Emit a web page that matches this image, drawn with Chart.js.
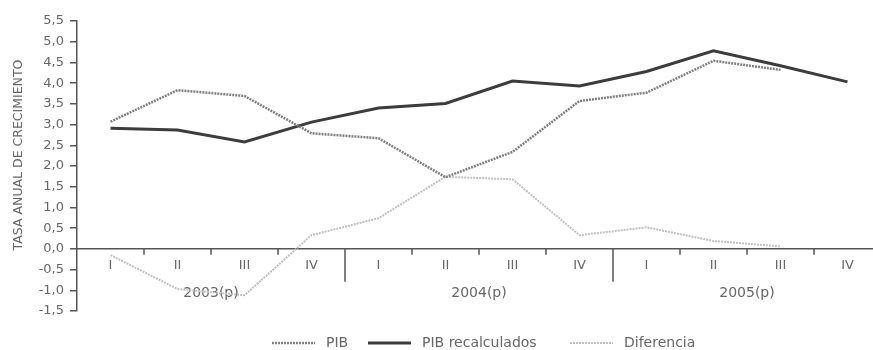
<!DOCTYPE html>
<html>
<head>
<meta charset="utf-8">
<script src="https://cdn.jsdelivr.net/npm/chart.js@4/dist/chart.umd.min.js"></script>
<style>
  html, body { margin: 0; padding: 0; background: #fff; overflow: hidden; }
  #wrap { width: 890px; height: 350px; }
</style>
</head>
<body>
<div id="wrap"><canvas id="grafico" width="890" height="350"></canvas></div>
<script>
(function() {
  // Trimestres y años
  const trimestres = ["I", "II", "III", "IV", "I", "II", "III", "IV", "I", "II", "III", "IV"];
  const anios = ["2003(p)", "2004(p)", "2005(p)"];

  // Tasas
  const pib = [3.07, 3.83, 3.69, 2.79, 2.67, 1.73, 2.34, 3.57, 3.77, 4.54, 4.32, null];
  const pibRecalculados = [2.91, 2.87, 2.58, 3.06, 3.40, 3.51, 4.05, 3.93, 4.28, 4.78, 4.42, 4.03];
  const diferencia = [-0.15, -0.97, -1.12, 0.33, 0.74, 1.74, 1.68, 0.33, 0.52, 0.19, 0.06, null];

  const FUENTE = "'DejaVu Sans', sans-serif";
  const GRIS = "#555";

  const series = [
    { label: "PIB", data: pib, color: "#808080", width: 2.5, dash: [2, 1] },
    { label: "PIB recalculados", data: pibRecalculados, color: "#3c3c3c", width: 3, dash: [] },
    { label: "Diferencia", data: diferencia, color: "#c0c0c0", width: 2, dash: [2, 1] }
  ];

  const ejes = {
    id: "ejes",
    beforeDatasetsDraw(chart) {
      const ctx = chart.ctx;
      const x = chart.scales.x;
      const y = chart.scales.y;
      const area = chart.chartArea;
      const y0 = y.getPixelForValue(0);

      ctx.save();
      ctx.strokeStyle = GRIS;
      ctx.lineWidth = 1.5;
      ctx.beginPath();
      ctx.moveTo(area.left, y0);
      ctx.lineTo(area.right, y0);
      ctx.stroke();

      // marcas de trimestre y separadores de año
      for (let i = 1; i <= trimestres.length; i++) {
        const px = Math.round(x.getPixelForValue(i - 0.5));
        const largo = i % 4 === 0 ? 33 : 6;
        ctx.beginPath();
        ctx.moveTo(px, y0);
        ctx.lineTo(px, y0 + largo);
        ctx.stroke();
      }

      ctx.fillStyle = "#666";
      ctx.textAlign = "center";
      ctx.textBaseline = "middle";
      ctx.font = "13px " + FUENTE;
      trimestres.forEach(function(t, i) {
        ctx.fillText(t, x.getPixelForValue(i), y0 + 17);
      });
      ctx.font = "14px " + FUENTE;
      anios.forEach(function(a, j) {
        const cx = (x.getPixelForValue(j * 4) + x.getPixelForValue(j * 4 + 3)) / 2;
        ctx.fillText(a, cx, y0 + 45);
      });
      ctx.restore();
    },
    afterDraw(chart) {
      const ctx = chart.ctx;
      ctx.save();

      // título del eje y
      ctx.translate(19, 155);
      ctx.rotate(-Math.PI / 2);
      ctx.fillStyle = "#666";
      ctx.font = "12.5px " + FUENTE;
      ctx.textAlign = "center";
      ctx.textBaseline = "middle";
      ctx.fillText("TASA ANUAL DE CRECIMIENTO", 0, 0);
      ctx.setTransform(1, 0, 0, 1, 0, 0);

      // leyenda
      const posiciones = [272, 368, 570];
      ctx.font = "14px " + FUENTE;
      ctx.textAlign = "left";
      series.forEach(function(s, i) {
        const lx = posiciones[i];
        ctx.strokeStyle = s.color;
        ctx.lineWidth = s.width;
        ctx.setLineDash(s.dash);
        ctx.beginPath();
        ctx.moveTo(lx, 343);
        ctx.lineTo(lx + 43, 343);
        ctx.stroke();
        ctx.setLineDash([]);
        ctx.fillStyle = "#666";
        ctx.fillText(s.label, lx + 54, 343);
      });
      ctx.restore();
    }
  };

  new Chart(document.getElementById("grafico"), {
    type: "line",
    data: {
      labels: trimestres,
      datasets: series.map(function(s) {
        return {
          label: s.label,
          data: s.data,
          borderColor: s.color,
          borderWidth: s.width,
          borderDash: s.dash,
          pointRadius: 0,
          tension: 0,
          fill: false
        };
      })
    },
    options: {
      responsive: false,
      devicePixelRatio: 1,
      animation: false,
      layout: { padding: { left: 0, right: 9, top: 21, bottom: 39 } },
      plugins: {
        legend: { display: false },
        tooltip: { enabled: false }
      },
      scales: {
        x: {
          display: false,
          offset: true
        },
        y: {
          min: -1.5,
          max: 5.5,
          afterFit: function(s) { s.width = 77; },
          ticks: {
            stepSize: 0.5,
            color: "#666",
            padding: 6,
            font: { family: FUENTE, size: 13 },
            callback: function(v) { return v.toFixed(1).replace(".", ","); }
          },
          grid: {
            drawOnChartArea: false,
            drawTicks: true,
            tickLength: 7,
            color: GRIS,
            lineWidth: 1.5
          },
          border: { color: GRIS, width: 1.5 }
        }
      }
    },
    plugins: [ejes]
  });
})();
</script>
</body>
</html>
